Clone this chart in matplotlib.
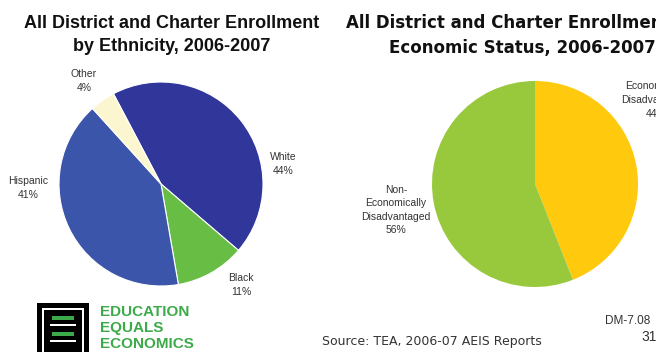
import matplotlib
matplotlib.use("Agg")
import matplotlib.pyplot as plt
from matplotlib.patches import Rectangle

W, H = 656, 352

# ethnicity pie
eth_names = ["White", "Black", "Hispanic", "Other"]
eth_pct = [44, 11, 41, 4]
eth_colors = ["#30369a", "#68bd45", "#3a55a9", "#fbf5d0"]

# economic status pie
eco_names = ["Economically\nDisadvantaged", "Non-\nEconomically\nDisadvantaged"]
eco_pct = [44, 56]
eco_colors = ["#ffc90e", "#98c83c"]

plt.rcParams['font.family'] = ['Liberation Sans', 'DejaVu Sans']

fig = plt.figure(figsize=(W / 100, H / 100), dpi=100)
fig.patch.set_facecolor("white")


def px(x, y):
    return x / W, 1 - y / H


def pie_axes(cx, cy, r):
    ax = fig.add_axes([(cx - r) / W, 1 - (cy + r) / H, 2 * r / W, 2 * r / H])
    ax.set_axis_off()
    return ax


# left pie
ax1 = pie_axes(161, 184, 102)
ax1.pie(eth_pct, colors=eth_colors, startangle=117.8, counterclock=False,
        wedgeprops=dict(edgecolor="white", linewidth=0.8))
ax1.set_xlim(-1, 1)
ax1.set_ylim(-1, 1)

# right pie
ax2 = pie_axes(535, 184, 103)
ax2.pie(eco_pct, colors=eco_colors, startangle=90, counterclock=False,
        wedgeprops=dict(edgecolor="none"))
ax2.set_xlim(-1, 1)
ax2.set_ylim(-1, 1)

lab = dict(ha="center", va="center", fontsize=7.5, color="#333333", linespacing=1.45)
eth_pos = [(283, 164), (241, 285), (28, 188), (84, 81)]
for name, p, (x, y) in zip(eth_names, eth_pct, eth_pos):
    fig.text(*px(x, y), f"{name}\n{p}%", **lab)

eco_pos = [(656, 100), (396, 210)]
for name, p, (x, y) in zip(eco_names, eco_pct, eco_pos):
    fig.text(*px(x, y), f"{name}\n{p}%", **lab)

# titles
tit = dict(ha="center", va="center", fontweight="bold", color="#111111", linespacing=1.5)
fig.text(*px(172, 35), "All District and Charter Enrollment\nby Ethnicity, 2006-2007",
         fontsize=13, **tit)
fig.text(*px(522, 35), "All District and Charter Enrollment by\nEconomic Status, 2006-2007",
         fontsize=12, family=["DejaVu Sans"], **tit)

# footer
fig.text(*px(322, 342), "Source: TEA, 2006-07 AEIS Reports", ha="left", va="center",
         fontsize=9, color="#333333", family=["DejaVu Sans"])
fig.text(*px(605, 321), "DM-7.08", ha="left", va="center", fontsize=8.5, color="#333333")
fig.text(*px(641, 337), "31", ha="left", va="center", fontsize=10, color="#333333")

# logo
def rect(x, y, w, h, c):
    fig.patches.append(Rectangle(px(x, y + h), w / W, h / H, transform=fig.transFigure,
                                 facecolor=c, edgecolor="none"))

rect(37, 303, 52, 52, "black")
rect(42, 308, 42, 2, "white")
rect(42, 308, 2, 44, "white")
rect(82, 308, 2, 44, "white")
rect(50, 324, 26, 2, "white")
rect(50, 340, 26, 2, "white")
rect(52, 316, 22, 4, "#3daa4a")
rect(52, 332, 22, 4, "#3daa4a")

logo = dict(ha="left", va="center", fontsize=11, fontweight="bold", color="#3daa4a",
            family=["Liberation Sans Narrow", "Liberation Sans"])
fig.text(*px(100, 312), "EDUCATION", **logo)
fig.text(*px(100, 328), "EQUALS", **logo)
fig.text(*px(100, 344), "ECONOMICS", **logo)

fig.savefig("out.png", dpi=100)
